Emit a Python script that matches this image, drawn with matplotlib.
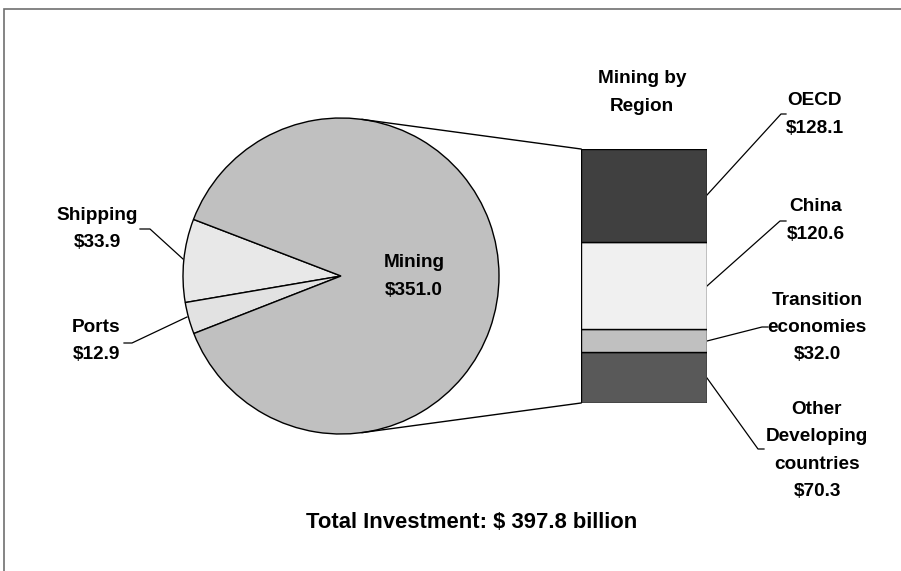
import matplotlib
matplotlib.use("Agg")
import matplotlib.pyplot as plt
from matplotlib.patches import Rectangle
import numpy as np

FONT = ['Liberation Sans', 'DejaVu Sans']

# ---- data ----
pie_labels = ["Shipping", "Ports", "Mining"]
pie_values = [33.9, 12.9, 351.0]
pie_colors = ["#e8e8e8", "#e2e2e2", "#c0c0c0"]

bar_labels = ["Other\nDeveloping\ncountries", "Transition\neconomies", "China", "OECD"]
bar_values = [70.3, 32.0, 120.6, 128.1]
bar_colors = ["#595959", "#c0c0c0", "#f0f0f0", "#404040"]

title = "Total Investment: $ 397.8 billion"
bar_title = "Mining by\nRegion"

W, H = 901, 571
fig = plt.figure(figsize=(W / 100, H / 100), dpi=100)
ax = fig.add_axes([0, 0, 1, 1])

def P(x, y):
    return (x, H - y)

FS = 13.7
tkw = dict(fontsize=FS, fontweight='bold', family=FONT, ha='center', va='center', linespacing=1.78)

cx, cy = P(341, 276)
R = 158
ax.pie(pie_values, colors=pie_colors, startangle=159, counterclock=True,
       center=(cx, cy), radius=R,
       wedgeprops=dict(edgecolor='black', linewidth=1.0))
ax.set_xlim(0, W)
ax.set_ylim(0, H)
ax.set_aspect('auto')
ax.axis('off')

# frame
fig.patches.append(Rectangle((4 / W, -0.1), 1.1, (H - 9) / H + 0.1, transform=fig.transFigure,
                             fill=False, edgecolor='#6f6f6f', linewidth=1.2))

# bar axes
bx0, btop, bw, bbot = 581, 149, 126, 403
bax = fig.add_axes([bx0 / W, (H - bbot) / H, bw / W, (bbot - btop) / H])
bottom = 0
for v, c in zip(bar_values, bar_colors):
    bax.bar(0, v, bottom=bottom, width=1.0, color=c, edgecolor='black', linewidth=1.0)
    bottom += v
bax.set_xlim(-0.5, 0.5)
bax.set_ylim(0, sum(bar_values))
bax.axis('off')

# connecting tangent lines
def tangent(px, py, upper):
    dx, dy = px - cx, py - cy
    d = np.hypot(dx, dy)
    phi = np.arctan2(dy, dx)
    a = np.arccos(R / d)
    t = phi + a if upper else phi - a
    return cx + R * np.cos(t), cy + R * np.sin(t)

for (px, py), up in [(P(bx0, btop), True), (P(bx0, bbot), False)]:
    tx, ty = tangent(px, py, up)
    ax.plot([tx, px], [ty, py], color='black', linewidth=1.0)

# pie labels
ax.text(*P(414, 276.5), f"{pie_labels[2]}\n${pie_values[2]:.1f}", **tkw)
ax.text(*P(97, 229), f"{pie_labels[0]}\n${pie_values[0]:.1f}", **tkw)
ax.text(*P(96, 341), f"{pie_labels[1]}\n${pie_values[1]:.1f}", **tkw)
ax.plot(*zip(P(140, 229), P(150, 229), P(183, 259)), color='black', linewidth=0.9)
ax.plot(*zip(P(124, 343), P(132, 343), P(187, 317)), color='black', linewidth=0.9)

# bar labels
ax.text(*P(642, 92.5), bar_title, **tkw)
label_pos = [(817, 450.5), (817, 327.5), (816, 220.5), (815, 114.5)]
for lab, v, (x, y) in zip(bar_labels, bar_values, label_pos):
    ax.text(*P(x, y), f"{lab}\n${v:.1f}", **tkw)
ax.plot(*zip(P(707, 195), P(781, 114), P(786, 114)), color='black', linewidth=0.9)
ax.plot(*zip(P(707, 286), P(780, 221), P(786, 221)), color='black', linewidth=0.9)
ax.plot(*zip(P(707, 341), P(762, 327), P(768, 327)), color='black', linewidth=0.9)
ax.plot(*zip(P(707, 378), P(758, 449), P(764, 449)), color='black', linewidth=0.9)

ax.text(*P(472, 522), title, fontsize=15.8, fontweight='bold', family=FONT, ha='center', va='center')

fig.savefig("out.png", dpi=100)
